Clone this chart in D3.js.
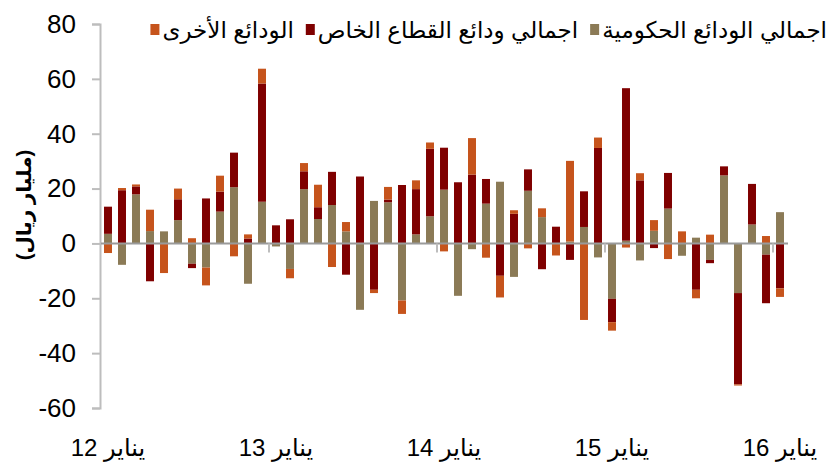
<!DOCTYPE html>
<html>
<head>
<meta charset="utf-8">
<script src="https://cdn.jsdelivr.net/npm/d3@7"></script>
<style>
  body { margin: 0; background: #fff; }
  svg { display: block; font-family: "Liberation Sans", Arial, "DejaVu Sans", sans-serif; }
</style>
</head>
<body>
<script>
// monthly change, Jan 2012 .. Jan 2016 (billion riyals)
var months = d3.timeMonth.range(new Date(2012, 0, 1), new Date(2016, 1, 1));

var govDeposits = [3.5, -7.8, 17.9, 4.5, 4.4, 8.5, -7.4, -8.8, 11.6, 20.5, -14.7, 15.2,
  -1.1, -9.3, 19.8, 8.9, 14.0, 4.4, -24.2, 15.5, 15.0, -20.8, 3.3, 9.9,
  19.6, -19.1, -2.1, 14.5, 22.5, -12.2, 19.2, 9.6, 0, 0.7, 6.0, -5.1,
  -20.2, 1.0, -6.2, 4.6, 12.7, -4.5, 2.1, -6.0, 24.8, -18.1, 6.9, -4.1,
  11.4];
var privDeposits = [9.9, 19.4, 2.9, -13.8, 0, 7.6, -1.6, 16.4, 7.3, 12.6, 1.8, 43.1,
  6.6, 8.8, 6.5, 4.3, 12.1, -11.4, 24.4, -16.9, 1.0, 21.3, 16.5, 24.6,
  15.3, 22.3, 25.1, 9.0, -11.8, 10.8, 7.8, -9.4, 6.1, -6.0, 13.0, 34.8,
  -8.5, 55.6, 23.0, -1.7, 13.0, 0, -16.9, -1.2, 3.3, -33.3, 14.8, -17.7,
  -16.4];
var otherDeposits = [-3.5, 0.8, 0.7, 7.8, -10.8, 3.9, 1.9, -6.5, 5.8, -4.7, 1.5, 5.4,
  0, -3.4, 3.0, 8.2, -8.6, 3.4, 0, -1.2, 4.6, -4.9, 3.2, 2.3,
  -2.9, 0, 13.3, -5.2, -7.9, 1.3, -1.8, 3.2, -4.4, 29.4, -27.9, 3.8,
  -3.1, -1.5, 2.6, 3.9, -5.7, 4.4, -3.1, 3.2, 0, -0.4, 0, 2.7,
  -3.1];

var seriesKeys = ['gov', 'priv', 'other'];
var seriesNames = ['اجمالي الودائع الحكومية', 'اجمالي ودائع القطاع الخاص', 'الودائع الأخرى'];
var seriesColors = ['#8b7a56', '#7f0000', '#c6541c'];

var yTicks = [-60, -40, -20, 0, 20, 40, 60, 80];
var xTickLabels = ['يناير 12', 'يناير 13', 'يناير 14', 'يناير 15', 'يناير 16'];
var yTitle = '(مليار ريال)';

var width = 829;
var height = 462;

var rows = months.map(function (m, i) {
  return {month: m, gov: govDeposits[i], priv: privDeposits[i], other: otherDeposits[i]};
});

var stacked = d3.stack().keys(seriesKeys).offset(d3.stackOffsetDiverging)(rows);

// band scale: 14px step, 8px bars
var x = d3.scaleBand()
        .domain(months.map(function (d) { return +d; }))
        .range([101, 787])
        .paddingInner(0.43)
        .paddingOuter(0.215);

var y = d3.scaleLinear()
        .domain([-60, 80])
        .range([408, 24]);

var svg = d3.select('body')
            .append('svg')
            .attr('width', width)
            .attr('height', height);

// y axis (plain hyphen for negatives, like the original)
var yAxis = d3.axisLeft(y)
              .tickValues(yTicks)
              .tickFormat(function (d) { return String(d); })
              .tickSize(8)
              .tickPadding(16);

var yg = svg.append('g')
            .attr('transform', 'translate(100,0)')
            .call(yAxis);
yg.select('.domain').attr('stroke', '#bdbdbd').attr('stroke-width', 2);
yg.selectAll('.tick line').attr('stroke', '#bdbdbd').attr('stroke-width', 2);
yg.selectAll('.tick text')
  .attr('font-size', 26)
  .attr('fill', '#000')
  .attr('font-family', '"Liberation Sans", Arial, sans-serif');

// bars
svg.append('g')
   .selectAll('g')
   .data(stacked)
   .enter()
   .append('g')
     .attr('fill', function (d, i) { return seriesColors[i]; })
   .selectAll('rect')
   .data(function (d) { return d; })
   .enter()
   .append('rect')
     .attr('x', function (d) { return x(+d.data.month); })
     .attr('width', x.bandwidth())
     .attr('y', function (d) { return y(Math.max(d[0], d[1])); })
     .attr('height', function (d) { return Math.abs(y(d[0]) - y(d[1])); });

// zero line with year ticks between Dec and Jan
var gap = (x.step() - x.bandwidth()) / 2;
var xg = svg.append('g');
xg.append('line')
  .attr('x1', 101)
  .attr('x2', 788)
  .attr('y1', y(0))
  .attr('y2', y(0))
  .attr('stroke', '#9a9a9a')
  .attr('stroke-width', 2);

var januaries = months.filter(function (d) { return d.getMonth() === 0; });

xg.selectAll('.ytick')
  .data(januaries.slice(1))
  .enter()
  .append('line')
    .attr('class', 'ytick')
    .attr('x1', function (d) { return x(+d) - gap; })
    .attr('x2', function (d) { return x(+d) - gap; })
    .attr('y1', y(0))
    .attr('y2', y(0) + 9)
    .attr('stroke', '#bdbdbd')
    .attr('stroke-width', 2);

xg.selectAll('.xlabel')
  .data(januaries)
  .enter()
  .append('text')
    .attr('class', 'xlabel')
    .attr('x', function (d) { return x(+d) + x.bandwidth() / 2; })
    .attr('y', 456)
    .attr('text-anchor', 'middle')
    .attr('font-size', 24)
    .text(function (d, i) { return xTickLabels[i]; });

// y title
svg.append('text')
   .attr('transform', 'translate(31,205)rotate(-90)')
   .attr('text-anchor', 'middle')
   .attr('font-size', 20)
   .attr('font-weight', 'bold')
   .text(yTitle);

// legend, laid out right to left
var legend = svg.append('g');
var right = 827;
seriesNames.forEach(function (name, i) {
  var t = legend.append('text')
                .attr('x', right)
                .attr('y', 38)
                .attr('text-anchor', 'end')
                .attr('font-size', 23)
                .text(name);
  var w = t.node().getComputedTextLength();
  legend.append('rect')
        .attr('x', right - w - 12)
        .attr('y', 24)
        .attr('width', 9)
        .attr('height', 11)
        .attr('fill', seriesColors[i]);
  right = right - w - 24;
});
</script>
</body>
</html>
